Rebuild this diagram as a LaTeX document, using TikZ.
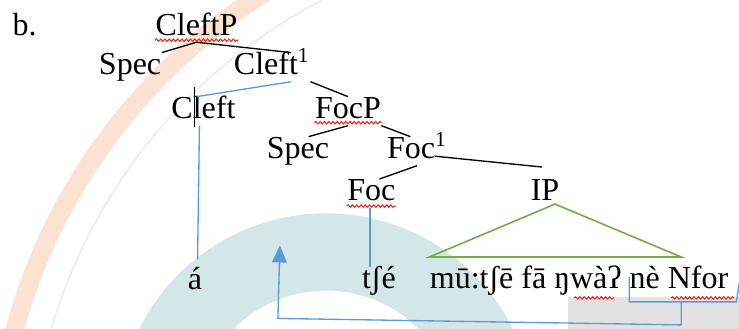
\documentclass[tikz,border=0pt]{standalone}
\usepackage{fontspec}
\setmainfont{Liberation Serif}
\newfontfamily\treefont{Liberation Serif}
\usetikzlibrary{positioning,calc,arrows.meta,decorations.pathmorphing}
\definecolor{wordblue}{RGB}{91,155,213}
\definecolor{wordgreen}{RGB}{112,173,71}
\definecolor{squiggle}{RGB}{232,38,38}
\definecolor{markorange}{RGB}{251,226,210}
\definecolor{markteal}{RGB}{212,231,232}
\definecolor{markgrey}{RGB}{226,226,226}
\begin{document}
\begin{tikzpicture}[x=0.375pt, y=-0.375pt,
    cat/.style={inner sep=0pt, text height=8pt, text depth=2.5pt, font=\treefont\fontsize{12}{14}\selectfont},
    branch/.style={black, line width=0.5pt},
    link/.style={wordblue, line width=0.5pt},
    spell/.style={squiggle, line width=0.4pt, decorate, decoration={snake, amplitude=0.45pt, segment length=1.6pt}}]
    \useasboundingbox (0,0) rectangle (739,329);
    % watermark behind the tree
    \begin{scope}
        \clip (0,0) rectangle (739,329);
        \draw[markorange, line width=7pt] (570,480) circle [radius=575];
        \draw[black!7, line width=0.6pt] (570,480) circle [radius=540];
        \draw[markteal, line width=29pt] (326,422) circle [radius=170];
        \fill[markgrey] (568,297) rectangle (739,329);
    \end{scope}

    \node (label) [cat, anchor=base west] at (12,36) {b.};
    \node (cleftp) [cat] at (196.5,27.7) {CleftP};
    \node (spec1) [cat, below of=cleftp, node distance=14.8pt, xshift=-24.9pt] {Spec};
    \node (cleft1) [cat, below of=cleftp, node distance=14.8pt, xshift=28.3pt] {Cleft\textsuperscript{1}};
    \node (cleft) [cat, below of=cleft1, node distance=16.5pt, xshift=-25.7pt] {Cleft};
    \node (focp) [cat, below of=cleft1, node distance=16.5pt, xshift=28.5pt] {FocP};
    \node (spec2) [cat, below of=focp, node distance=15pt, xshift=-18.75pt] {Spec};
    \node (foc1) [cat, below of=focp, node distance=15pt, xshift=25.9pt] {Foc\textsuperscript{1}};
    \node (foc) [cat, below of=foc1, node distance=15.9pt, xshift=-17.1pt] {Foc};
    \node (ip) [cat, below of=foc1, node distance=15.9pt, xshift=48pt] {IP};
    \node (aa) [cat, below of=cleft, node distance=64.1pt, xshift=-3.2pt] {á};
    \node (tse) [cat, below of=foc, node distance=33pt, xshift=2.8pt] {tʃé};
    \node (words) [cat, below of=ip, node distance=33pt, xshift=12.75pt] {mū:tʃē fā ŋwàʔ nè Nfor};

    % tree branches
    \draw[branch] (cleftp.south) -- (spec1.north east);
    \draw[branch] (cleftp.south) -- ($(cleft1.north)!.5!(cleft1.north east)$);
    \draw[branch] (cleft1.south east) -- (focp.north);
    \draw[branch] (focp.south) -- ([xshift=4pt]spec2.north);
    \draw[branch] (focp.south east) -- ([xshift=-2.5pt]foc1.north);
    \draw[branch] (foc1.south) -- ([xshift=3pt]foc.north);
    \draw[branch] ($(foc1.east)+(-13,5)$) -- ($(ip.north)+(-3,-12)$);

    % IP triangle
    \coordinate (tritop) at ($(ip.south)+(10,-4)$);
    \coordinate (trileft) at ($(words.north west)+(0,-10)$);
    \coordinate (triright) at ($(words.north west)+(252,-10)$);
    \draw[wordgreen, line width=0.6pt] (tritop) -- (trileft) -- (triright) -- cycle;

    % head links
    \draw[link] ($(cleft1.south)!.5!(cleft1.south east)$) -- ([xshift=-2.5pt]cleft.north);
    \draw[link] ([xshift=-1.5pt]cleft.south) -- ([xshift=1pt,yshift=3pt]aa.north);
    \coordinate (focfoot) at ($(foc.south)+(-1.5,0)$);
    \draw[link] (focfoot) -- (focfoot |- tse.north);

    % bracket under ne Nfor and the movement arrow
    \coordinate (br1) at ($(words.base west)+(200,-12)$);
    \coordinate (br2) at ($(words.base west)+(200,13)$);
    \coordinate (br3) at ($(words.base west)+(307,13)$);
    \coordinate (br4) at ($(words.base west)+(310,-6)$);
    \draw[link] (br1) -- (br2) -- (br3) -- (br4);
    \coordinate (mv1) at ($(words.base west)+(252,13)$);
    \coordinate (mv2) at ($(words.base west)+(252,36)$);
    \coordinate (mv3) at ($(aa.base)+(83,29)$);
    \coordinate (mvtip) at ($(aa.base)+(85,-44)$);
    \draw[link, -{Triangle[width=5.6pt,length=6.4pt]}] (mv1) -- (mv2) -- (mv3) -- (mvtip);

    % caret and spelling marks
    \draw[black, line width=0.35pt] ($(cleft.west)+(23.5,-24)$) -- ($(cleft.west)+(23.5,16)$);
    \draw[spell] ($(cleftp.south west)+(0,-2)$) -- ($(cleftp.south east)+(0,-2)$);
    \draw[spell] ($(focp.south west)+(0,-3)$) -- ($(focp.south east)+(0,-3)$);
    \draw[spell] ($(foc.south west)+(0,-2)$) -- ($(foc.south east)+(0,-2)$);
    \draw[spell] ($(words.base west)+(145,9)$) -- ($(words.base west)+(185,9)$);
    \draw[spell] ($(words.base west)+(242,9)$) -- ($(words.base west)+(305,9)$);
\end{tikzpicture}
\end{document}
